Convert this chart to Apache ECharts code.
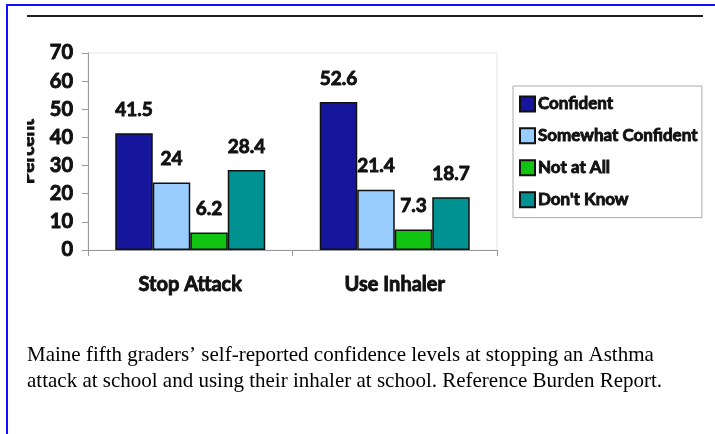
<!DOCTYPE html>
<html>
<head>
<meta charset="utf-8">
<script src="https://cdn.jsdelivr.net/npm/echarts@6/dist/echarts.min.js"></script>
<style>
  html, body { margin: 0; padding: 0; background: #fff; }
  #main { width: 715px; height: 434px; }
</style>
</head>
<body>
<div id="main"></div>
<script>
// data
var categories = ['Stop Attack', 'Use Inhaler']
var seriesNames = ['Confident', 'Somewhat Confident', 'Not at All', "Don't Know"]
var confident = [41.5, 52.6]
var somewhat = [24, 21.4]
var notAtAll = [6.2, 7.3]
var dontKnow = [28.4, 18.7]
var yTicks = [0, 10, 20, 30, 40, 50, 60, 70]

var values = [confident, somewhat, notAtAll, dontKnow]
var colors = ['#16169c', '#99ccff', '#12c412', '#009191']

// the source uses a heavy marker-like face, thicken Lato bold with a thin outline
function heavyText(size, extra) {
  var s = {
    color: '#111',
    fontFamily: 'Lato, "DejaVu Sans", sans-serif',
    fontWeight: 'bold',
    fontSize: size,
    textBorderColor: '#111',
    textBorderWidth: 0.9
  }
  return Object.assign(s, extra || {})
}

var myChart = echarts.init(document.getElementById('main'), null, { renderer: 'canvas' })

var series = seriesNames.map(function (name, i) {
  return {
    name: name,
    type: 'bar',
    barWidth: 37.5,
    barGap: '0%',
    data: values[i],
    itemStyle: { color: colors[i], borderColor: '#111', borderWidth: 1.5 },
    label: heavyText(19, { show: true, position: 'top', distance: 14 })
  }
})

myChart.setOption({
  backgroundColor: '#fff',
  animation: false,
  grid: {
    left: 88, top: 53, right: 218, bottom: 184,
    show: true, borderColor: '#e6e6e6', borderWidth: 1
  },
  legend: {
    orient: 'vertical',
    left: 513, top: 86,
    padding: [9, 4, 9, 6],
    itemWidth: 15, itemHeight: 15, itemGap: 14,
    icon: 'rect',
    borderColor: '#aaa', borderWidth: 1,
    textStyle: heavyText(17, { lineHeight: 17, padding: [0, 0, 0, -2] }),
    data: seriesNames
  },
  xAxis: {
    type: 'category',
    data: categories,
    axisLine: { lineStyle: { color: '#999' } },
    axisTick: { show: true, length: 6, lineStyle: { color: '#999' } },
    axisLabel: heavyText(20, { margin: 25 })
  },
  yAxis: {
    type: 'value',
    min: yTicks[0],
    max: yTicks[yTicks.length - 1],
    interval: yTicks[1] - yTicks[0],
    name: 'Percent',
    nameLocation: 'middle',
    nameGap: 51,
    nameRotate: 90,
    nameMoveOverlap: false,
    nameTextStyle: heavyText(19),
    axisLine: { show: true, lineStyle: { color: '#999' } },
    axisTick: { show: true, length: 6, lineStyle: { color: '#999' } },
    splitLine: { show: false },
    axisLabel: heavyText(20, { margin: 15 })
  },
  graphic: [
    // white mask that crops the left of the axis name, as in the picture
    { type: 'rect', z: 100, shape: { x: 0, y: 0, width: 27, height: 434 }, style: { fill: '#fff' } },
    // blue frame
    { type: 'rect', z: 101, shape: { x: 6, y: 4, width: 2, height: 430 }, style: { fill: '#1010ff' } },
    { type: 'rect', z: 101, shape: { x: 6, y: 4, width: 709, height: 2 }, style: { fill: '#1010ff' } },
    // black rule at the top
    { type: 'rect', z: 101, shape: { x: 27, y: 15, width: 676, height: 2 }, style: { fill: '#222' } },
    {
      type: 'text', z: 101, left: 27, top: 342,
      style: {
        text: 'Maine fifth graders\u2019 self-reported confidence levels at stopping an Asthma\nattack at school and using their inhaler at school. Reference Burden Report.',
        font: '21px "Liberation Serif", "DejaVu Serif", serif',
        fill: '#000',
        lineHeight: 26
      }
    }
  ],
  series: series
})
</script>
</body>
</html>
